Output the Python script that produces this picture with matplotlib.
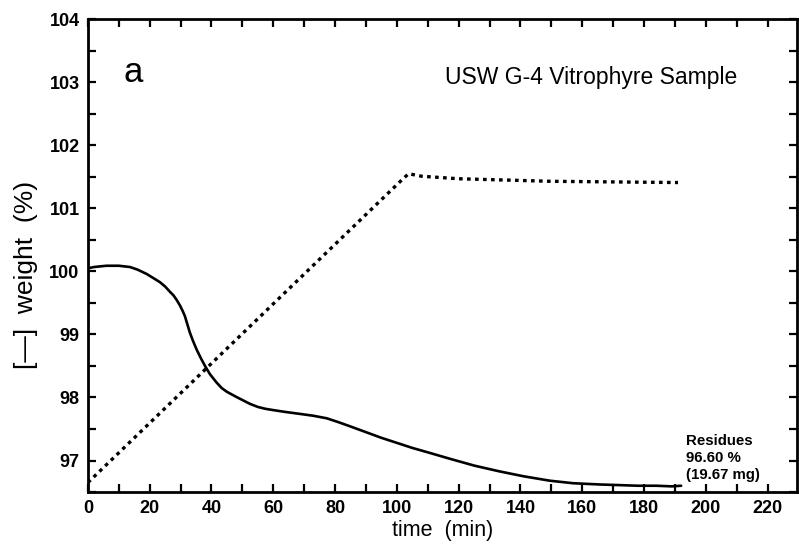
import numpy as np
import matplotlib
matplotlib.use("Agg")
import matplotlib.pyplot as plt
from matplotlib.ticker import MultipleLocator

plt.rcParams['font.family'] = ['Liberation Sans', 'DejaVu Sans']

# weight curve (solid)
t_weight = [0, 2, 4, 6, 8, 10, 13.6, 16, 19, 21, 23.3, 25, 26.5, 27.7, 28.7, 29.8,
            30.7, 31.4, 32.2, 33, 34, 35.2, 36.5, 37.9, 39.5, 41.6, 43.3, 45, 46.5,
            48, 50, 52.4, 55, 57.5, 60, 64, 68.6, 73, 77.3, 81, 85, 90, 95, 100,
            105, 110, 117, 125, 133, 141, 149.5, 157, 165.6, 172, 178, 184, 189, 192]
weight = [100.05, 100.07, 100.08, 100.09, 100.09, 100.09, 100.07, 100.03, 99.96,
          99.9, 99.83, 99.76, 99.68, 99.62, 99.55, 99.46, 99.37, 99.29, 99.16, 99.03,
          98.9, 98.76, 98.63, 98.5, 98.37, 98.24, 98.15, 98.09, 98.05, 98.01, 97.96,
          97.9, 97.85, 97.82, 97.8, 97.77, 97.74, 97.71, 97.67, 97.61, 97.54, 97.45,
          97.36, 97.28, 97.2, 97.13, 97.03, 96.92, 96.83, 96.75, 96.68, 96.64, 96.62,
          96.61, 96.6, 96.6, 96.59, 96.6]

# temperature trace (dotted), scaled on the same axis
t_temp = [0, 102, 103.8, 108, 120, 135, 149.5, 170, 191]
temp = [96.65, 101.47, 101.55, 101.51, 101.47, 101.45, 101.43, 101.42, 101.41]

fig = plt.figure(figsize=(7.99, 5.51), dpi=100)
ax = fig.add_axes([0.110, 0.107, 0.8875, 0.858])

ax.plot(t_weight, weight, color='black', lw=1.9, solid_capstyle='round',
        solid_joinstyle='round')
ax.plot(t_temp, temp, color='black', lw=2.4, linestyle=(0, (1.1, 1.3)))

ax.set_xlim(0, 229.5)
ax.set_ylim(96.5, 104)
ax.xaxis.set_major_locator(MultipleLocator(20))
ax.xaxis.set_minor_locator(MultipleLocator(10))
ax.yaxis.set_major_locator(MultipleLocator(1))
ax.yaxis.set_minor_locator(MultipleLocator(0.5))
ax.tick_params(which='both', direction='in', top=True, right=True, length=6, width=1.6)
ax.tick_params(labelsize=13, pad=6)
for lab in ax.get_xticklabels() + ax.get_yticklabels():
    lab.set_fontweight('bold')
for s in ax.spines.values():
    s.set_linewidth(2)

ax.set_xlabel('time  (min)', fontsize=15.5, labelpad=2)
ax.set_ylabel('[\u2014]  weight  (%)', fontsize=19)
ax.yaxis.set_label_coords(-0.071, 0.46)

ax.text(11.5, 103.15, 'a', fontsize=25, va='center')
ax.text(210, 103.08, 'USW G-4 Vitrophyre Sample', fontsize=16.5, va='center',
        ha='right')
ax.text(193.5, 96.66, 'Residues\n96.60 %\n(19.67 mg)', fontsize=10.8, va='bottom',
        linespacing=1.25, fontweight='bold')

fig.savefig('out.png', dpi=100)
